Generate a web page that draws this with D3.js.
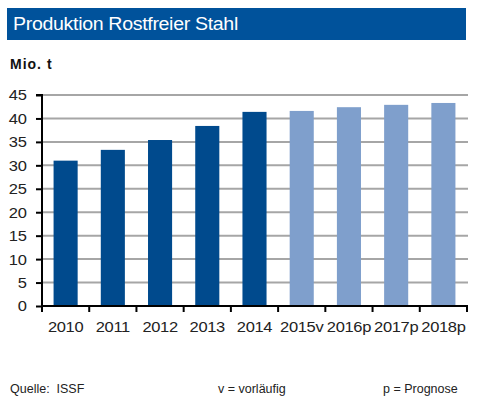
<!DOCTYPE html>
<html><head><meta charset="utf-8">
<script src="https://cdn.jsdelivr.net/npm/d3@7"></script>
<style>body{margin:0;background:#fff}svg{display:block}</style>
</head><body>
<script>
const categories = ["2010","2011","2012","2013","2014","2015v","2016p","2017p","2018p"];
const values = [31.0, 33.3, 35.4, 38.4, 41.4, 41.6, 42.4, 42.9, 43.3];
const kinds = ["ist","ist","ist","ist","ist","prog","prog","prog","prog"];
const yTicks = [0,5,10,15,20,25,30,35,40,45];
const title = "Produktion Rostfreier Stahl";
const unit = "Mio. t";
const notes = ["Quelle:  ISSF", "v = vorläufig", "p = Prognose"];

const W = 479, H = 411;
const svg = d3.select("body").append("svg").attr("width", W).attr("height", H);
const font = "Arial, 'Liberation Sans', sans-serif";
const SX = 1.1; // horizontal stretch of the reference image

svg.append("rect").attr("x",7).attr("y",8).attr("width",459).attr("height",32).attr("fill","#00529B");
svg.append("text").attr("transform","translate(13,29.5) scale(1.12,1)").attr("fill","#fff").attr("font-family",font)
  .attr("font-size",17.5).attr("letter-spacing","-0.3").text(title);
svg.append("text").attr("x",10).attr("y",69).attr("fill","#111").attr("font-family",font)
  .attr("font-size",14).attr("font-weight","bold").attr("letter-spacing","1").text(unit);

const x = d3.scaleBand().domain(categories).range([42,467]).paddingInner(0.49).paddingOuter(0.245);
const xb = d3.scaleBand().domain(categories).range([42,467]);
const y = d3.scaleLinear().domain([0,45]).range([306,95]);

// gridlines
svg.append("g").selectAll("line").data(yTicks.filter(d=>d>0)).join("line")
  .attr("x1",42).attr("x2",468).attr("y1",d=>y(d)).attr("y2",d=>y(d))
  .attr("stroke","#A6A6A6").attr("stroke-width",2);

// bars
svg.append("g").selectAll("rect").data(categories).join("rect")
  .attr("x",d=>x(d)).attr("width",x.bandwidth())
  .attr("y",(d,i)=>y(values[i])).attr("height",(d,i)=>y(0)-y(values[i]))
  .attr("fill",(d,i)=>kinds[i]==="ist" ? "#004A8D" : "#7F9FCC");

// y axis
const ya = svg.append("g").attr("transform","translate(42,0)")
  .call(d3.axisLeft(y).tickValues(yTicks).tickSize(6).tickFormat(""));
ya.select(".domain").attr("stroke","#000").attr("stroke-width",2).attr("d","M-6,95H0V307");
ya.selectAll(".tick line").attr("stroke","#000").attr("stroke-width",2);
svg.append("g").selectAll("text").data(yTicks).join("text")
  .attr("transform",d=>`translate(27,${y(d)}) scale(${SX},1)`).attr("dy","0.36em")
  .attr("text-anchor","end").attr("font-family",font).attr("font-size",15).attr("fill","#222").text(d=>d);

// x axis
const xa = svg.append("g").attr("transform","translate(0,306)");
xa.append("line").attr("x1",41).attr("x2",468).attr("stroke","#000").attr("stroke-width",2);
const bounds = categories.map(c=>xb(c)).concat([467]);
xa.selectAll("line.t").data(bounds).join("line").attr("class","t")
  .attr("x1",d=>d).attr("x2",d=>d).attr("y1",0).attr("y2",6).attr("stroke","#000").attr("stroke-width",2);
xa.selectAll("text").data(categories).join("text")
  .attr("transform",d=>`translate(${xb(d)+xb.bandwidth()/2},25.5) scale(${SX},1)`).attr("text-anchor","middle")
  .attr("font-family",font).attr("font-size",15).attr("fill","#222").attr("letter-spacing","-0.3").text(d=>d);

// notes
const nx = [10, 218, 383];
svg.append("g").selectAll("text").data(notes).join("text")
  .attr("x",(d,i)=>nx[i]).attr("y",393).attr("font-family","'Liberation Sans Narrow', Arial, sans-serif")
  .attr("font-size",12.5).attr("fill","#222").style("white-space","pre").text(d=>d);
</script>
</body></html>
